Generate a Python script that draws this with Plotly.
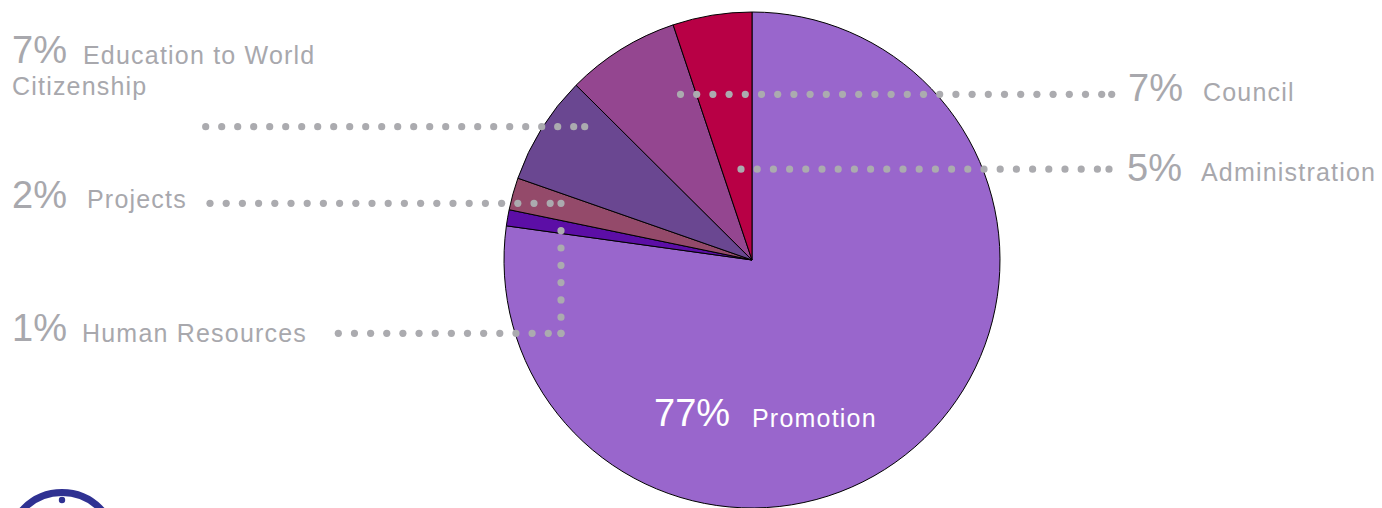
import numpy as np
import plotly.graph_objects as go

# ---- data ----
labels = ["Promotion", "Human Resources", "Projects",
          "Education to World Citizenship", "Council", "Administration"]
values = [77.2, 1.05, 2.1, 7.1, 7.4, 5.15]
colors = ["#9966CC", "#5C0EA6", "#944A6A", "#6A4791", "#944690", "#B80045"]

W, H = 1382, 508
GRAY = "#A8A8AD"
DOT = "#ABABAF"
PCT_FONT = "Liberation Sans"
LBL_FONT = "Liberation Sans"
PCT_SIZE = 38
LBL_SIZE = 25
LBL_SPACING = 1.2

# ---- layout for labels (pixel coords: x from left, baseline y from top) ----
label_layout = {
    "Promotion": dict(pct=(653, 426.7), text=[("Promotion", 751, 426.7)], color="white", dots=[]),
    "Human Resources": dict(pct=(11, 341.7), text=[("Human Resources", 81, 341.7)], color=GRAY,
                            dots=[((338.3, 333.3), (561, 333.3), 16.15)]),
    "Projects": dict(pct=(11, 208.3), text=[("Projects", 86, 207.5)], color=GRAY,
                     dots=[((210, 203.3), (561, 203.3), 16.2),
                           ((561, 230.7), (561, 333.3), 17.3)]),
    "Education to World Citizenship": dict(pct=(11, 63.0),
                                           text=[("Education to World", 82, 64.0),
                                                 ("Citizenship", 11, 94.5)], color=GRAY,
                                           dots=[((205.7, 126.7), (584.7, 126.7), 16.0)]),
    "Council": dict(pct=(1127, 101.7), text=[("Council", 1202, 101.0)], color=GRAY,
                    dots=[((680.5, 94.3), (1111.7, 94.3), 16.2)]),
    "Administration": dict(pct=(1126, 181.7), text=[("Administration", 1200, 181.0)], color=GRAY,
                           dots=[((741, 169.2), (1109, 169.2), 16.2)]),
}

# pie geometry (pixels)
cx, cy, r = 752, 260, 248

fig = go.Figure()
fig.add_trace(go.Pie(
    labels=labels, values=values, sort=False, direction="clockwise", rotation=0,
    marker=dict(colors=colors, line=dict(color="black", width=1)),
    textinfo="none", hoverinfo="label+percent", showlegend=False,
    domain=dict(x=[(cx - r) / W, (cx + r) / W], y=[(H - cy - r) / H, (H - cy + r) / H]),
))
# invisible pixel-space axes for annotations/shapes
fig.add_trace(go.Scatter(x=[0, W], y=[0, H], mode="markers", marker=dict(opacity=0),
                         hoverinfo="skip", showlegend=False))

total = sum(values)
annotations = []
shapes = []
for lab, val in zip(labels, values):
    L = label_layout[lab]
    pct = f"{round(val / total * 100):d}%"
    px, pb = L["pct"]
    annotations.append(dict(x=px, y=pb - 0.35 * PCT_SIZE, xref="x", yref="y", text=pct,
                            showarrow=False, xanchor="left", yanchor="middle", align="left",
                            borderpad=0,
                            font=dict(family=PCT_FONT, size=PCT_SIZE, color=L["color"])))
    for (t, tx, tb) in L["text"]:
        annotations.append(dict(x=tx, y=tb - 0.35 * LBL_SIZE, xref="x", yref="y", text=t,
                                showarrow=False, xanchor="left", yanchor="middle", align="left",
                                borderpad=0,
                                font=dict(family=LBL_FONT, size=LBL_SIZE, color=L["color"])))
    for (p0, p1, step) in L["dots"]:
        (x0, y0), (x1, y1) = p0, p1
        length = np.hypot(x1 - x0, y1 - y0)
        ts = list(np.arange(0, length, step) / length) + [1.0]
        for t in ts:
            dx, dy = x0 + (x1 - x0) * t, y0 + (y1 - y0) * t
            shapes.append(dict(type="circle", xref="x", yref="y", layer="above",
                               x0=dx - 3.6, x1=dx + 3.6, y0=dy - 3.6, y1=dy + 3.6,
                               fillcolor=DOT, line=dict(width=0)))

# logo ring at bottom-left
shapes.append(dict(type="circle", xref="x", yref="y", layer="above",
                   x0=62 - 53.5, x1=62 + 53.5, y0=546 - 53.5, y1=546 + 53.5,
                   line=dict(color="#2F3192", width=7)))
shapes.append(dict(type="circle", xref="x", yref="y", layer="above",
                   x0=62 - 3.2, x1=62 + 3.2, y0=500 - 3.2, y1=500 + 3.2,
                   fillcolor="#2F3192", line=dict(width=0)))

fig.update_layout(
    width=W, height=H, margin=dict(l=0, r=0, t=0, b=0),
    paper_bgcolor="white", plot_bgcolor="white",
    xaxis=dict(range=[0, W], visible=False, fixedrange=True),
    yaxis=dict(range=[H, 0], visible=False, fixedrange=True),
    annotations=annotations, shapes=shapes,
)

post_js = """
document.body.style.margin='0';
document.body.style.overflow='hidden';
var gd = document.getElementById('{plot_id}');
function applySpacing(){
  gd.querySelectorAll('text.annotation-text').forEach(function(t){
    if (t.style.fontSize === '%dpx') { t.style.letterSpacing = '%spx'; }
  });
}
applySpacing();
gd.on('plotly_afterplot', applySpacing);
""" % (LBL_SIZE, LBL_SPACING)

fig.write_html("out.html", config={"displayModeBar": False}, post_script=post_js)
